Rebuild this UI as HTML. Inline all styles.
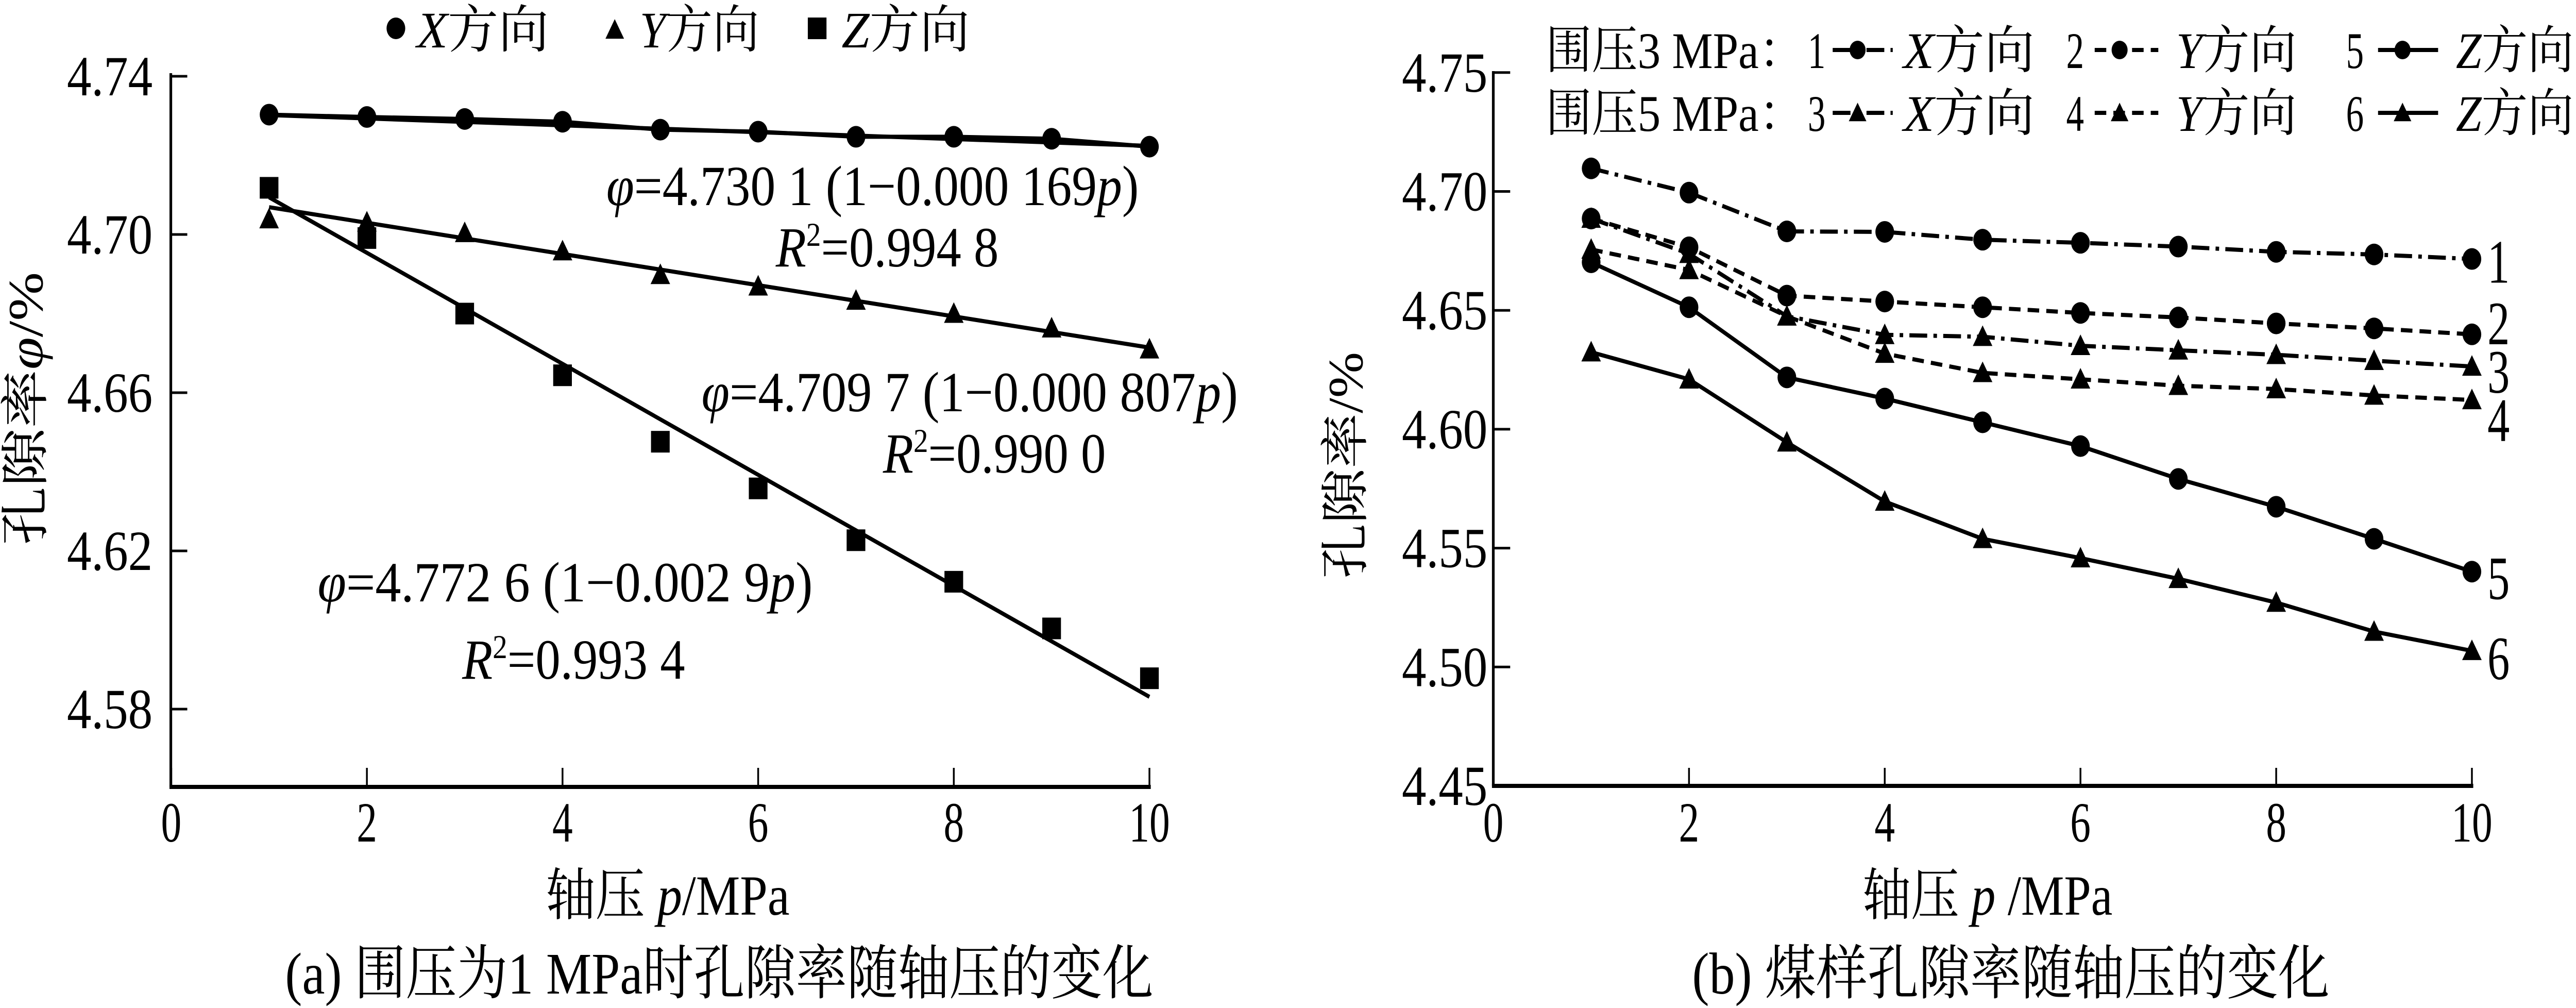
<!DOCTYPE html>
<html><head><meta charset="utf-8">
<style>
html,body{margin:0;padding:0;background:#fff;width:100%;height:100%;overflow:hidden;}
svg{display:block;width:100vw;height:100vh;}
text{font-family:"Liberation Serif","Noto Serif CJK SC","Noto Sans CJK SC",serif;fill:#000;}
</style></head>
<body>
<svg id="fig" viewBox="0 0 5791 1956" preserveAspectRatio="none" xmlns="http://www.w3.org/2000/svg">
<g id="left"></g>
<g id="right"></g>
</svg>
<script>
// ---------- data: chart (a) ----------
const pA = [1,2,3,4,5,6,7,8,9,10];
const aX = [4.7303,4.7297,4.7292,4.7285,4.7265,4.7260,4.7247,4.7247,4.7242,4.7222];
const aY = [4.7039,4.7031,4.7004,4.6958,4.6898,4.6869,4.6833,4.6800,4.6763,4.6710];
const aZ = [4.7118,4.6991,4.6800,4.6644,4.6476,4.6358,4.6227,4.6122,4.6004,4.5878];
const fitP = [1,10];
const fitX = [4.7302,4.7224];
const fitY = [4.7069,4.6714];
const fitZ = [4.7094,4.5831];
const aYTicks = [4.74,4.70,4.66,4.62,4.58];
const aYTickLabels = ["4.74","4.70","4.66","4.62","4.58"];
const xTicks = [0,2,4,6,8,10];
const xTickLabels = ["0","2","4","6","8","10"];
// ---------- data: chart (b) ----------
const pB = [1,2,3,4,5,6,7,8,9,10];
const s1 = [4.7097,4.6995,4.6832,4.6830,4.6797,4.6784,4.6768,4.6746,4.6735,4.6716];
const s2 = [4.6886,4.6765,4.6562,4.6537,4.6513,4.6489,4.6470,4.6445,4.6424,4.6399];
const s3 = [4.6886,4.6738,4.6475,4.6397,4.6389,4.6351,4.6332,4.6313,4.6288,4.6264];
const s4 = [4.6756,4.6670,4.6475,4.6318,4.6237,4.6210,4.6183,4.6169,4.6142,4.6123];
const s5 = [4.6702,4.6513,4.6218,4.6129,4.6029,4.5929,4.5791,4.5674,4.5539,4.5401];
const s6 = [4.6324,4.6210,4.5945,4.5696,4.5539,4.5458,4.5371,4.5271,4.5149,4.5068];
const bYTicks = [4.75,4.70,4.65,4.60,4.55,4.50,4.45];
const bYTickLabels = ["4.75","4.70","4.65","4.60","4.55","4.50","4.45"];
const seriesLabels = ["1","2","3","4","5","6"];

const NS="http://www.w3.org/2000/svg";
function mk(parent,tag,attrs){const e=document.createElementNS(NS,tag);for(const k in attrs)e.setAttribute(k,attrs[k]);parent.appendChild(e);return e;}
function txt(parent,x,y,size,html,anchor,len){const t=mk(parent,'text',{x:x,y:y,'font-size':size,'text-anchor':anchor||'start'});if(len){t.setAttribute('textLength',len);t.setAttribute('lengthAdjust','spacingAndGlyphs');}t.innerHTML=html;return t;}

const xA=p=>385+p*219.9;
const yA=v=>455-(v-4.70)/0.04*307;
const xB=p=>3357+p*220;
const yB=v=>1525-(v-4.45)/0.05*230.7;
const LW=8;

function marker(g,type,x,y,s){
  let m;
  if(type==='circle') m=mk(g,'circle',{cx:x,cy:y,r:s/2});
  else if(type==='square') m=mk(g,'rect',{x:x-s/2,y:y-s/2,width:s,height:s});
  else m=mk(g,'polygon',{points:(x)+','+(y-s*0.55)+' '+(x-s*0.55)+','+(y+s*0.45)+' '+(x+s*0.55)+','+(y+s*0.45)});
  m.setAttribute('fill','#000');
  return m;
}

// ===== chart (a) =====
const L=document.getElementById('left');
let e;
e=mk(L,'line',{x1:384,y1:142,x2:384,y2:1527,stroke:'#000','stroke-width':6});

e=mk(L,'line',{x1:381,y1:1527,x2:2587,y2:1527,stroke:'#000','stroke-width':8});

aYTicks.forEach((v,i)=>{
  mk(L,'line',{x1:384,y1:yA(v),x2:421,y2:yA(v),stroke:'#000','stroke-width':5});
  e=txt(L,343,yA(v)+37,110,aYTickLabels[i],'end');
  
});
xTicks.forEach((v,i)=>{
  mk(L,'line',{x1:xA(v),y1:1527,x2:xA(v),y2:1490,stroke:'#000','stroke-width':4});
  e=txt(L,xA(v),1633,110,xTickLabels[i],'middle',xTickLabels[i].length*46);
  
});
[[fitX,'fit-x'],[fitY,'fit-y'],[fitZ,'fit-z']].forEach(([f,n])=>{
  e=mk(L,'line',{x1:xA(fitP[0]),y1:yA(f[0]),x2:xA(fitP[1]),y2:yA(f[1]),stroke:'#000','stroke-width':LW});
  
});
e=mk(L,'polyline',{points:pA.map((p,i)=>xA(p)+','+yA(aX[i])).join(' '),fill:'none',stroke:'#000','stroke-width':LW});

pA.forEach((p,i)=>{e=marker(L,'circle',xA(p),yA(aX[i]),42);});
pA.forEach((p,i)=>{e=marker(L,'tri',xA(p),yA(aY[i]),40);});
pA.forEach((p,i)=>{e=marker(L,'square',xA(p),yA(aZ[i]),42);});
e=marker(L,'circle',890,55,42);
e=txt(L,937,92,100,'<tspan font-style="italic">X</tspan>方向','start',297);
e=marker(L,'tri',1382,58,38);
e=txt(L,1438,92,100,'<tspan font-style="italic">Y</tspan>方向','start',269);
e=marker(L,'square',1837,55,42);
e=txt(L,1892,92,100,'<tspan font-style="italic">Z</tspan>方向','start',288);
const I=s=>'<tspan font-style="italic">'+s+'</tspan>';
e=txt(L,1363,398,110,I('φ')+'=4.730 1 (1−0.000 169'+I('p')+')','start',1197);
e=txt(L,1744,517,110,I('R')+'<tspan dy="-40" font-size="65">2</tspan><tspan dy="40">=0.994 8</tspan>','start',501);
e=txt(L,1577,798,110,I('φ')+'=4.709 7 (1−0.000 807'+I('p')+')','start',1206);
e=txt(L,1985,917,110,I('R')+'<tspan dy="-40" font-size="65">2</tspan><tspan dy="40">=0.990 0</tspan>','start',501);
e=txt(L,714,1167,110,I('φ')+'=4.772 6 (1−0.002 9'+I('p')+')','start',1113);
e=txt(L,1039,1317,110,I('R')+'<tspan dy="-40" font-size="65">2</tspan><tspan dy="40">=0.993 4</tspan>','start',501);
e=txt(L,0,0,110,'孔隙率'+I('φ')+'/%','middle',530);
e.setAttribute('transform','translate(95,793) rotate(-90)');

e=txt(L,1227,1775,110,'轴压 '+I('p')+'/MPa','start',548);
e=txt(L,641,1928,115,'(a) 围压为1 MPa时孔隙率随轴压的变化','start',1952);

// ===== chart (b) =====
const R=document.getElementById('right');
e=mk(R,'line',{x1:3357,y1:138,x2:3357,y2:1525,stroke:'#000','stroke-width':6});

e=mk(R,'line',{x1:3354,y1:1525,x2:5560,y2:1525,stroke:'#000','stroke-width':8});

bYTicks.forEach((v,i)=>{
  mk(R,'line',{x1:3357,y1:yB(v),x2:3395,y2:yB(v),stroke:'#000','stroke-width':5});
  e=txt(R,3344,yB(v)+37,110,bYTickLabels[i],'end');
  
});
xTicks.forEach((v,i)=>{
  mk(R,'line',{x1:xB(v),y1:1525,x2:xB(v),y2:1490,stroke:'#000','stroke-width':4});
  e=txt(R,xB(v),1633,110,xTickLabels[i],'middle',xTickLabels[i].length*46);
  
});
const seriesB=[[s1,'circle','40,14,8,14'],[s2,'circle','26,16'],[s3,'tri','40,14,8,14'],[s4,'tri','26,16'],[s5,'circle',''],[s6,'tri','']];
const labOff=[46,19,51,80,53,55];
seriesB.forEach(([d,mt,dash],k)=>{
  e=mk(R,'polyline',{points:pB.map((p,i)=>xB(p)+','+yB(d[i])).join(' '),fill:'none',stroke:'#000','stroke-width':LW});
  if(dash) e.setAttribute('stroke-dasharray',dash);
  
  
  pB.forEach((p,i)=>{
    e=marker(R,mt,xB(p),yB(d[i]),mt==='circle'?42:40);
    
    
  });
  e=txt(R,5592,yB(d[9])+labOff[k],120,seriesLabels[k],'start',50);
  
  
});
function legRow(y,head,nums,mt,len){
  e=txt(R,3475,y,100,head,'start',len);
  const items=[[4064,4120,4255,4176,'40,14,8,14','X',4279,295],[4645,4709,4852,4765,'26,16','Y',4892,271],[5274,5346,5481,5401,'','Z',5521,265]];
  items.forEach((it,j)=>{
    e=txt(R,it[0],y,100,nums[j],'start',40);
    e=mk(R,'line',{x1:it[1],y1:y-35,x2:it[2],y2:y-35,stroke:'#000','stroke-width':LW});
    if(it[4]) e.setAttribute('stroke-dasharray',it[4]);
    
    e=marker(R,mt,it[3],y-35,36);
    e=txt(R,it[6],y,100,I(it[5])+'方向','start',it[7]);
  });
}
legRow(132,'围压3 MPa：',['1','2','5'],'circle',582);
legRow(254,'围压5 MPa：',['3','4','6'],'tri',582);
e=txt(R,0,0,110,'孔隙率/%','middle',440);
e.setAttribute('transform','translate(3062,903) rotate(-90)');

e=txt(R,4187,1775,110,'轴压 '+I('p')+' /MPa','start',562);
e=txt(R,3804,1928,115,'(b) 煤样孔隙率随轴压的变化','start',1433);
</script>
</body></html>
